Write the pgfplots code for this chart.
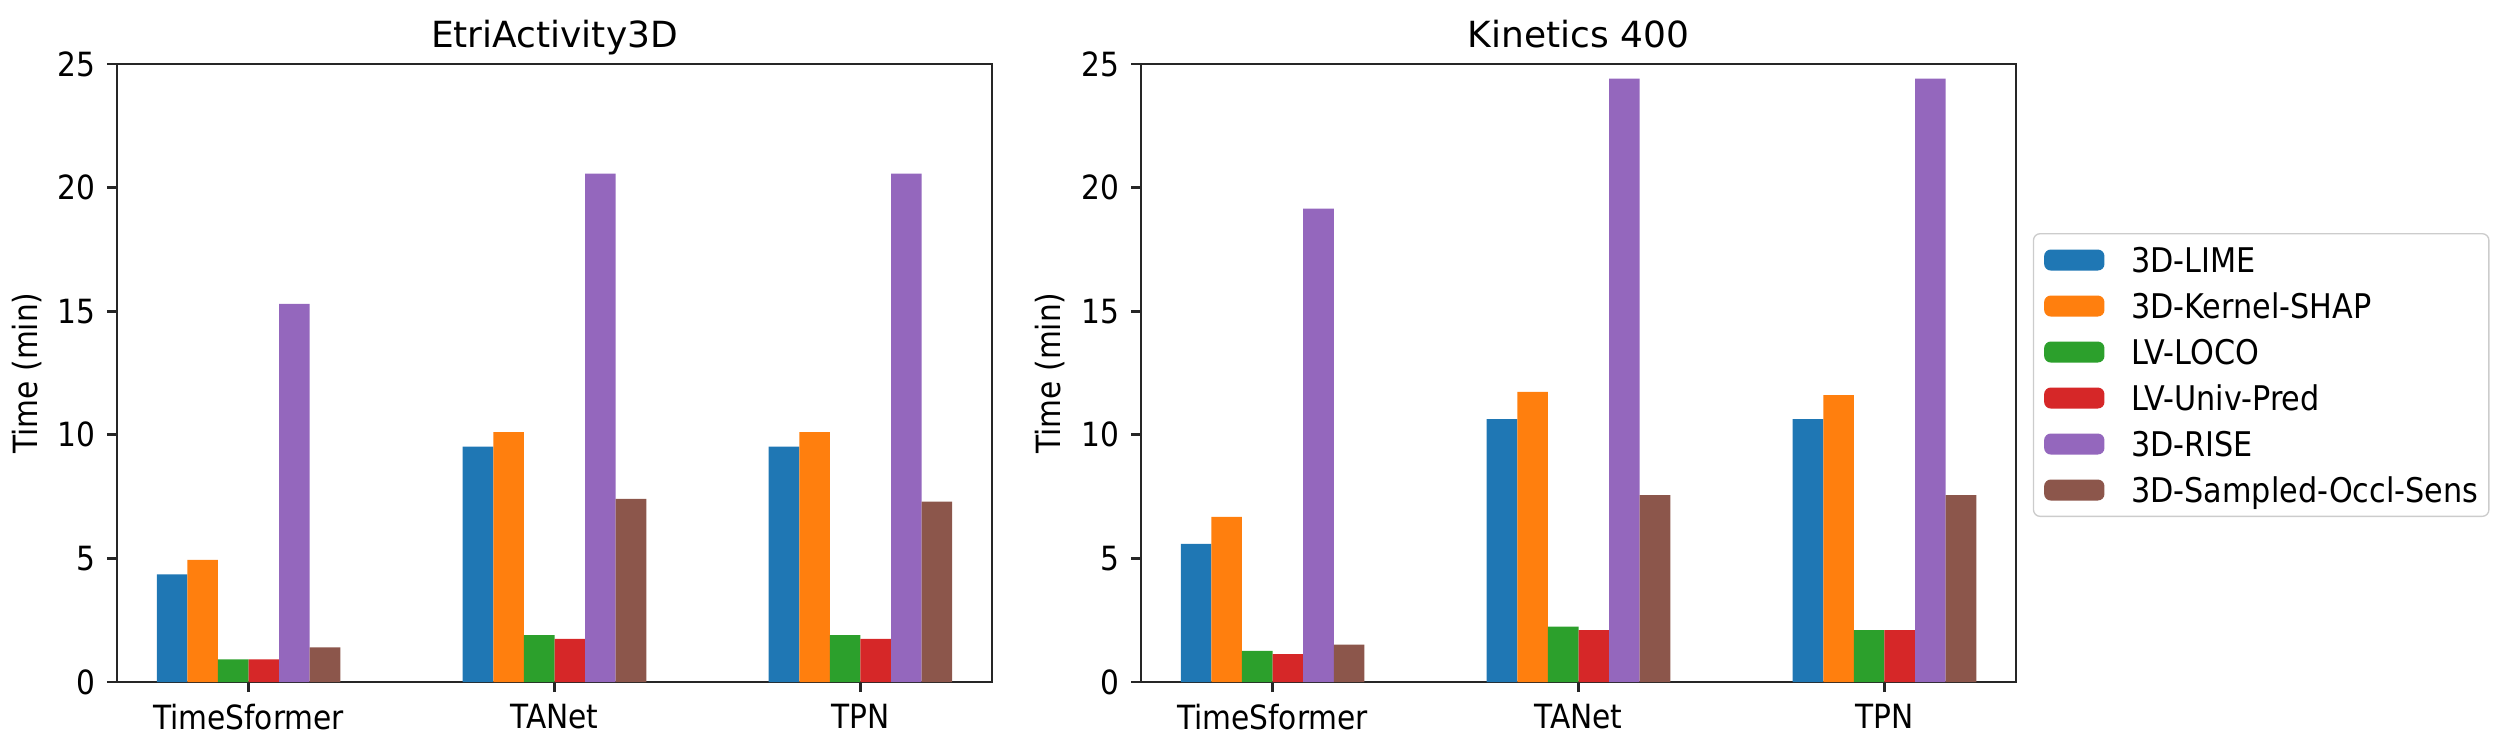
\documentclass[border=0pt]{standalone}
\usepackage{fontspec}
\setmainfont{DejaVu Sans}[FakeStretch=0.89]
\newfontfamily\titlefont{DejaVu Sans}
\usepackage{pgfplots}
\pgfplotsset{compat=1.18}
\definecolor{c0}{HTML}{1F77B4}
\definecolor{c1}{HTML}{FF7F0E}
\definecolor{c2}{HTML}{2CA02C}
\definecolor{c3}{HTML}{D62728}
\definecolor{c4}{HTML}{9467BD}
\definecolor{c5}{HTML}{8C564B}
\pgfplotsset{
  myaxis/.style={
    scale only axis, height=185.4pt, width=262.5pt,
    ybar, bar width=0.1,
    xmin=-0.43, xmax=2.43, ymin=0, ymax=25,
    xtick={0,1,2}, xticklabels={TimeSformer,TANet,TPN},
    ytick={0,5,10,15,20,25},
    tick align=outside, major tick length=3pt,
    xtick pos=left, ytick pos=left,
    axis line style={line width=0.8pt, black!85},
    tick style={line width=0.8pt, black!85},
    /pgf/number format/assume math mode=true,
    tick label style={font=\fontsize{10}{12}\selectfont},
    ylabel={Time (min)},
    label style={font=\fontsize{10}{12}\selectfont},
    every axis title shift=0pt,
    title style={font=\titlefont\fontsize{10.8}{13}\selectfont, at={(axis description cs:0.5,1)}, anchor=base, yshift=5.1pt},
    every axis plot/.append style={draw=none},
    legend image code/.code={\draw[##1,/tikz/.cd,draw=none] (0pt,-3.15pt) rectangle (18.1pt,3.15pt);},
  }
}
\begin{document}
\begin{tikzpicture}
\path[use as bounding box] (0,0) rectangle (752.1pt,222.3pt);
\begin{axis}[myaxis, at={(35.1pt,17.7pt)}, anchor=south west,
  title={EtriActivity3D},
  ylabel style={at={(axis description cs:-0.103,0.5)}, anchor=center}]
\addplot[fill=c0, bar shift=-0.25] coordinates {(0,4.35) (1,9.52) (2,9.52)};
\addplot[fill=c1, bar shift=-0.15] coordinates {(0,4.94) (1,10.11) (2,10.11)};
\addplot[fill=c2, bar shift=-0.05] coordinates {(0,0.92) (1,1.90) (2,1.90)};
\addplot[fill=c3, bar shift=0.05] coordinates {(0,0.92) (1,1.74) (2,1.74)};
\addplot[fill=c4, bar shift=0.15] coordinates {(0,15.30) (1,20.57) (2,20.57)};
\addplot[fill=c5, bar shift=0.25] coordinates {(0,1.40) (1,7.41) (2,7.30)};
\end{axis}
\begin{axis}[myaxis, at={(342.3pt,17.7pt)}, anchor=south west,
  title={Kinetics 400},
  ylabel style={at={(axis description cs:-0.104,0.5)}, anchor=center},
  legend cell align=left,
  legend style={at={(axis description cs:1.0192,0.7265)}, anchor=north west,
    draw=black!20, rounded corners=2pt, fill=white,
    font=\fontsize{10.2}{12}\selectfont,
    inner xsep=3.2pt, inner ysep=4.2pt, row sep=6.4pt,
    nodes={inner sep=0pt, text height=7.4pt, text depth=0pt},
    /tikz/every odd column/.append style={column sep=8pt}}]
\addplot[fill=c0, bar shift=-0.25] coordinates {(0,5.59) (1,10.63) (2,10.63)};
\addplot[fill=c1, bar shift=-0.15] coordinates {(0,6.68) (1,11.74) (2,11.61)};
\addplot[fill=c2, bar shift=-0.05] coordinates {(0,1.26) (1,2.24) (2,2.10)};
\addplot[fill=c3, bar shift=0.05] coordinates {(0,1.13) (1,2.10) (2,2.10)};
\addplot[fill=c4, bar shift=0.15] coordinates {(0,19.15) (1,24.41) (2,24.41)};
\addplot[fill=c5, bar shift=0.25] coordinates {(0,1.51) (1,7.56) (2,7.56)};
\legend{3D-LIME,3D-Kernel-SHAP,LV-LOCO,LV-Univ-Pred,3D-RISE,3D-Sampled-Occl-Sens}
\end{axis}
\end{tikzpicture}
\end{document}
